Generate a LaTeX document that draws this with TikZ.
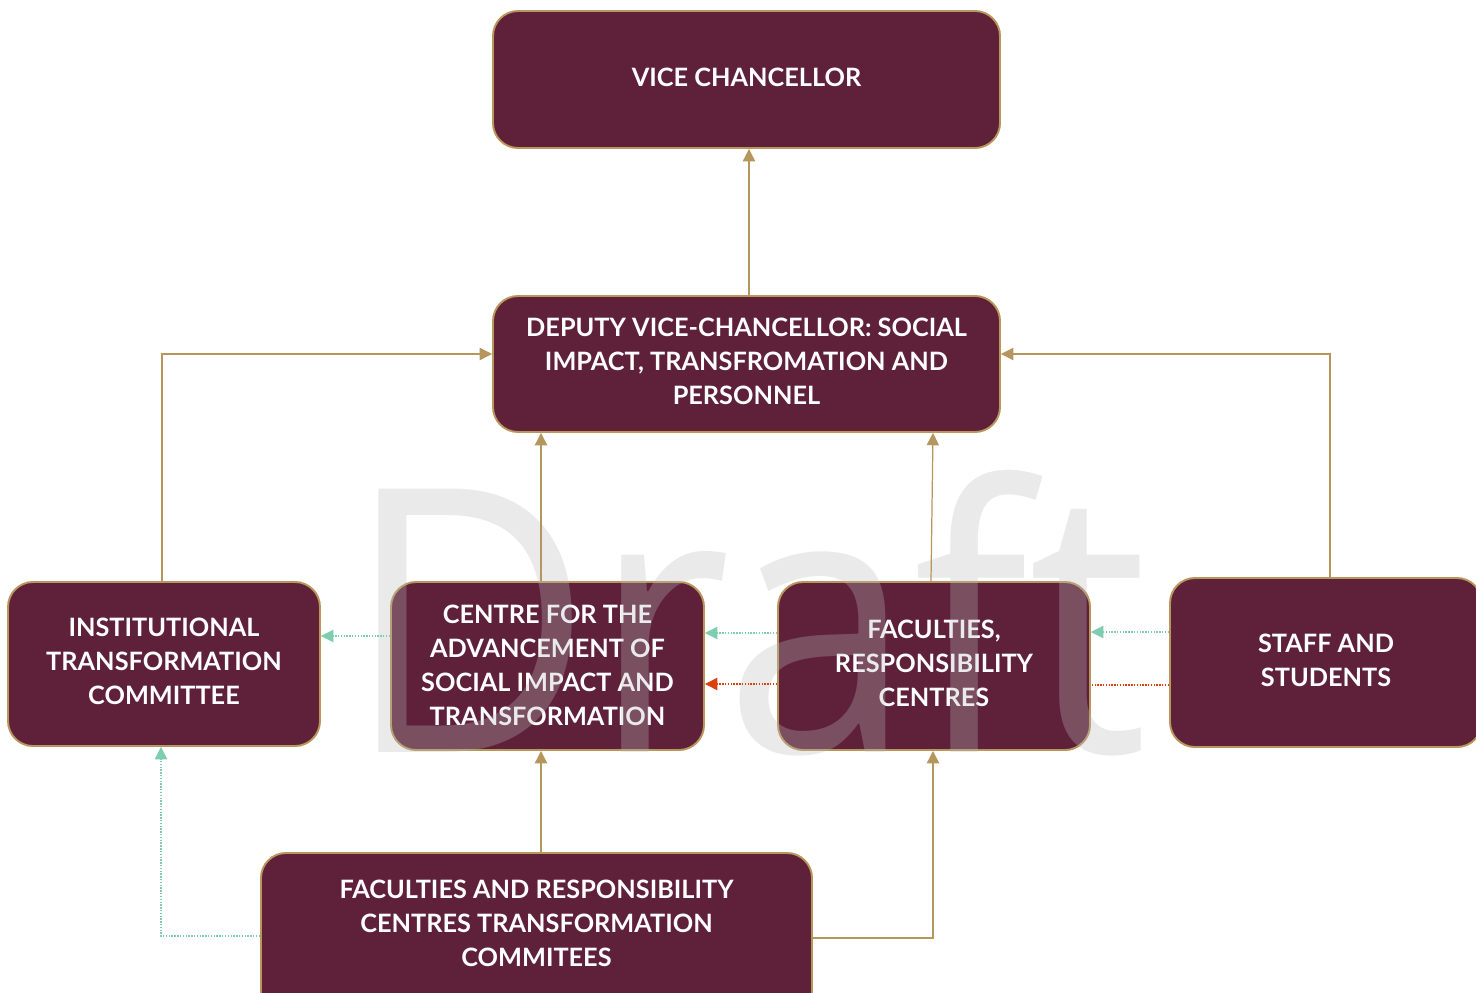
\documentclass[tikz,border=0pt]{standalone}
\usepackage{fontspec}
\setsansfont{Lato}
\newfontfamily\wmfont{Open Sans}
\usetikzlibrary{arrows.meta}
\definecolor{boxfill}{HTML}{5F213A}
\definecolor{boxline}{HTML}{B8965C}
\definecolor{goldline}{HTML}{B5975E}
\definecolor{tealline}{HTML}{7ECDAE}
\definecolor{redline}{HTML}{D9420F}
\begin{document}
\begin{tikzpicture}[x=0.02cm,y=-0.02cm,
  orgbox/.style={draw=boxline, line width=1.1pt, fill=boxfill, rounded corners=0.5cm,
    inner sep=0pt},
  boxtext/.style={text=white, font=\sffamily\bfseries\fontsize{14.4}{19.35}\selectfont,
    align=center, inner sep=0pt},
  solidlink/.style={draw=goldline, line width=0.7pt, -{Triangle[length=7pt,width=7pt]}},
  teallink/.style={draw=tealline, line width=0.7pt, dash pattern=on 0.8pt off 0.8pt,
    -{Triangle[length=7pt,width=7pt]}},
  redlink/.style={draw=redline, line width=0.7pt, dash pattern=on 0.8pt off 0.8pt,
    -{Triangle[length=7pt,width=7pt]}},
  redplain/.style={draw=redline, line width=0.7pt, dash pattern=on 0.8pt off 0.8pt}
]
\useasboundingbox (0,0) rectangle (1476,993);
\clip (0,0) rectangle (1476,993);

% boxes
\node[orgbox, minimum width=507*0.02cm, minimum height=137*0.02cm] (vc) at (746.5,79.5) {};
\node[orgbox, minimum width=507*0.02cm, minimum height=136*0.02cm] (dvc) at (746.5,364) {};
\node[orgbox, minimum width=312*0.02cm, minimum height=164*0.02cm] (itc) at (164,664) {};
\node[orgbox, minimum width=313*0.02cm, minimum height=168*0.02cm] (cas) at (547.5,666) {};
\node[orgbox, minimum width=312*0.02cm, minimum height=168*0.02cm] (frc) at (934,666) {};
\node[orgbox, minimum width=312*0.02cm, minimum height=169*0.02cm] (sas) at (1326,662.5) {};
\node[orgbox, minimum width=551*0.02cm, minimum height=166*0.02cm] (fct) at (536.5,936) {};

% box labels
\node[boxtext] (vct) at (746.5,77) {VICE CHANCELLOR};
\node[boxtext] (dvct) at (746.5,361)
  {DEPUTY VICE-CHANCELLOR: SOCIAL\\IMPACT, TRANSFROMATION AND\\PERSONNEL};
\node[boxtext] (itct) at (164,661) {INSTITUTIONAL\\TRANSFORMATION\\COMMITTEE};
\node[boxtext] (cast) at (547.5,665)
  {CENTRE FOR THE\\ADVANCEMENT OF\\SOCIAL IMPACT AND\\TRANSFORMATION};
\node[boxtext] (frct) at (934,663) {FACULTIES,\\RESPONSIBILITY\\CENTRES};
\node[boxtext] (sast) at (1326,660) {STAFF AND\\STUDENTS};
\node[boxtext] (fctt) at (536.5,923)
  {FACULTIES AND RESPONSIBILITY\\CENTRES TRANSFORMATION\\COMMITEES};

% watermark
\node[anchor=base west, inner sep=0pt, xscale=0.92, font=\wmfont\fontsize{210}{210}\selectfont,
  text=black!27, opacity=0.3, text opacity=0.3] (wm) at (345,752) {Draft};

% reporting lines
\draw[solidlink] (dvc.north -| 749,0) -- (vc.south -| 749,0);
\draw[solidlink] (itc.north -| 162,0) |- (dvc.west |- 0,354);
\draw[solidlink] (sas.north -| 1330,0) |- (dvc.east |- 0,354);
\draw[solidlink] (cas.north -| 541,0) -- (dvc.south -| 541,0);
\draw[solidlink] (frc.north -| 931,0) -- (dvc.south -| 933,0);
\draw[solidlink] (fct.north -| 541,0) -- (cas.south -| 541,0);
\draw[solidlink] (fct.east |- 0,938) -| (frc.south -| 933,0);

% information flows
\draw[teallink] (fct.west |- 0,936) -| (itc.south -| 161,0);
\draw[teallink] (cas.west |- 0,636) -- (itc.east |- 0,636);
\draw[teallink] (frc.west |- 0,633) -- (cas.east |- 0,633);
\draw[redlink] (frc.west |- 0,684) -- (cas.east |- 0,684);
\draw[teallink] (sas.west |- 0,632) -- (frc.east |- 0,632);
\draw[redplain] (sas.west |- 0,685) -- (frc.east |- 0,685);
\end{tikzpicture}
\end{document}
